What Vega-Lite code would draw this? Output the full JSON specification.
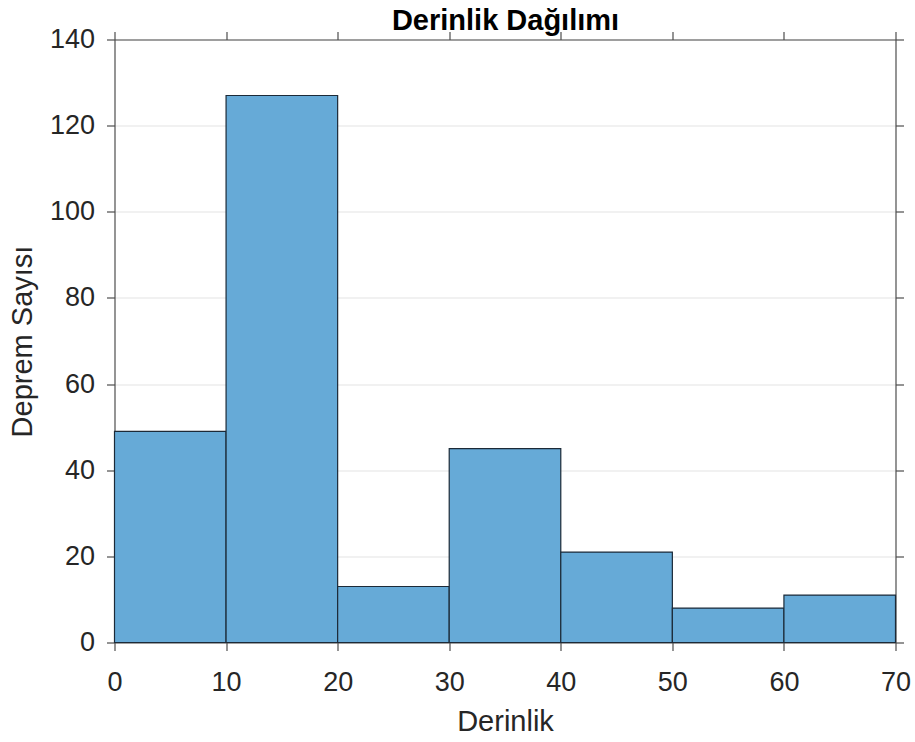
{
  "$schema": "https://vega.github.io/schema/vega-lite/v6.json",
  "autosize": {"type": "none"},
  "width": 781,
  "height": 603,
  "padding": {"left": 114.5, "top": 39.5, "right": 19.5, "bottom": 99.5},
  "background": "white",
  "data": {
    "values": [
      {"start": 0, "end": 10, "count": 49},
      {"start": 10, "end": 20, "count": 127},
      {"start": 20, "end": 30, "count": 13},
      {"start": 30, "end": 40, "count": 45},
      {"start": 40, "end": 50, "count": 21},
      {"start": 50, "end": 60, "count": 8},
      {"start": 60, "end": 70, "count": 11}
    ]
  },
  "config": {
    "view": {"stroke": null},
    "axis": {
      "labelFont": "Liberation Sans",
      "titleFont": "Liberation Sans",
      "labelFontSize": 27,
      "titleFontSize": 29,
      "labelColor": "#262626",
      "titleColor": "#262626",
      "titleFontWeight": "normal",
      "domainColor": "#4d4d4d",
      "tickColor": "#4d4d4d",
      "domainWidth": 1.2,
      "tickWidth": 1.2,
      "tickSize": 8,
      "gridColor": "#e3e3e3",
      "gridWidth": 1
    }
  },
  "resolve": {"axis": {"x": "independent", "y": "independent"}},
  "layer": [
    {
      "mark": {"type": "bar", "fill": "#66aad7", "stroke": "#1c2a38", "strokeWidth": 1.2},
      "encoding": {
        "x": {
          "field": "start",
          "type": "quantitative",
          "scale": {"domain": [0, 70], "nice": false, "zero": false},
          "axis": {
            "title": "Derinlik",
            "values": [0, 10, 20, 30, 40, 50, 60, 70],
            "grid": false,
            "labelPadding": 19,
            "titlePadding": 12,
            "labelFlush": false
          }
        },
        "x2": {"field": "end"},
        "y": {
          "field": "count",
          "type": "quantitative",
          "scale": {"domain": [0, 140], "nice": false},
          "axis": {
            "title": "Deprem Sayısı",
            "values": [0, 20, 40, 60, 80, 100, 120, 140],
            "grid": true,
            "labelPadding": 12,
            "titlePadding": 12,
            "labelFlush": false
          }
        },
        "y2": {"datum": 0}
      }
    },
    {
      "mark": {"type": "bar", "opacity": 0},
      "encoding": {
        "x": {
          "field": "start",
          "type": "quantitative",
          "axis": {
            "orient": "top",
            "title": "Derinlik Dağılımı",
            "titleFontWeight": "bold",
            "titleColor": "#000000",
            "titleFontSize": 29,
            "titleBaseline": "alphabetic",
            "titlePadding": 1,
            "labels": false,
            "grid": false,
            "values": [0, 10, 20, 30, 40, 50, 60, 70]
          }
        },
        "x2": {"field": "end"},
        "y": {
          "field": "count",
          "type": "quantitative",
          "axis": {
            "orient": "right",
            "title": null,
            "labels": false,
            "grid": false,
            "values": [0, 20, 40, 60, 80, 100, 120, 140]
          }
        },
        "y2": {"datum": 0}
      }
    }
  ]
}
